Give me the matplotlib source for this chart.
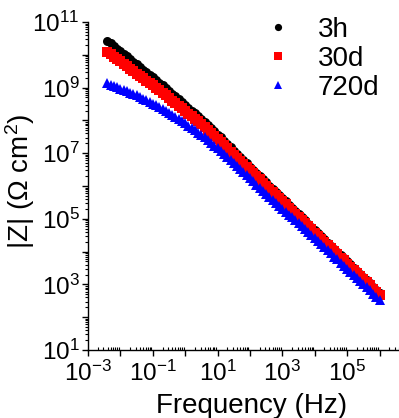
import numpy as np
import matplotlib
matplotlib.use("Agg")
import matplotlib.pyplot as plt
from matplotlib.ticker import LogLocator, FuncFormatter, NullFormatter

plt.rcParams['font.family'] = ['Liberation Sans', 'DejaVu Sans']
plt.rcParams['mathtext.default'] = 'regular'
plt.rcParams['axes.unicode_minus'] = False

# log10 of frequency (Hz)
log_freq = [-2.4, -2.3, -2.2, -2.1, -2.0, -1.9, -1.8, -1.7, -1.6, -1.5,
            -1.4, -1.3, -1.2, -1.1, -1.0, -0.9, -0.8, -0.7, -0.6, -0.5,
            -0.4, -0.3, -0.2, -0.1, 0.0, 0.1, 0.2, 0.3, 0.4, 0.5,
            0.6, 0.7, 0.8, 0.9, 1.0, 1.1, 1.2, 1.3, 1.4, 1.5,
            1.6, 1.7, 1.8, 1.9, 2.0, 2.1, 2.2, 2.3, 2.4, 2.5,
            2.6, 2.7, 2.8, 2.9, 3.0, 3.1, 3.2, 3.3, 3.4, 3.5,
            3.6, 3.7, 3.8, 3.9, 4.0, 4.1, 4.2, 4.3, 4.4, 4.5,
            4.6, 4.7, 4.8, 4.9, 5.0, 5.1, 5.2, 5.3, 5.4, 5.5,
            5.6, 5.7, 5.8, 5.9, 6.0]

# log10 |Z| (Ohm cm2) for each immersion time
logz_3h = [10.43, 10.35, 10.27, 10.19, 10.11, 10.03, 9.95, 9.87, 9.79, 9.71,
           9.63, 9.55, 9.47, 9.39, 9.31, 9.23, 9.15, 9.07, 8.98, 8.89,
           8.81, 8.73, 8.64, 8.56, 8.47, 8.39, 8.30, 8.22, 8.13, 8.05,
           7.96, 7.87, 7.76, 7.67, 7.57, 7.48, 7.37, 7.28, 7.18, 7.08,
           6.98, 6.89, 6.79, 6.69, 6.59, 6.50, 6.39, 6.30, 6.20, 6.11,
           6.01, 5.92, 5.81, 5.72, 5.62, 5.53, 5.43, 5.34, 5.24, 5.14,
           5.04, 4.95, 4.85, 4.76, 4.66, 4.57, 4.47, 4.37, 4.27, 4.18,
           4.08, 3.99, 3.89, 3.80, 3.70, 3.61, 3.50, 3.41, 3.31, 3.22,
           3.12, 3.03, 2.93, 2.84, 2.74]

logz_30d = [10.09, 10.02, 9.94, 9.87, 9.80, 9.72, 9.65, 9.58, 9.50, 9.43,
            9.36, 9.29, 9.21, 9.14, 9.07, 8.99, 8.92, 8.84, 8.76, 8.68,
            8.60, 8.53, 8.45, 8.37, 8.29, 8.21, 8.13, 8.05, 7.97, 7.89,
            7.81, 7.72, 7.62, 7.53, 7.43, 7.34, 7.24, 7.15, 7.05, 6.96,
            6.86, 6.77, 6.67, 6.58, 6.48, 6.39, 6.29, 6.20, 6.10, 6.01,
            5.91, 5.82, 5.72, 5.63, 5.53, 5.44, 5.34, 5.25, 5.15, 5.06,
            4.96, 4.87, 4.77, 4.68, 4.58, 4.49, 4.39, 4.30, 4.20, 4.11,
            4.01, 3.92, 3.82, 3.73, 3.63, 3.54, 3.44, 3.35, 3.25, 3.16,
            3.06, 2.97, 2.87, 2.78, 2.68]

logz_720d = [9.13, 9.09, 9.05, 9.01, 8.97, 8.93, 8.89, 8.85, 8.80, 8.76,
             8.71, 8.66, 8.61, 8.56, 8.51, 8.46, 8.40, 8.34, 8.29, 8.23,
             8.17, 8.11, 8.04, 7.98, 7.91, 7.84, 7.77, 7.70, 7.63, 7.55,
             7.48, 7.40, 7.32, 7.23, 7.15, 7.06, 6.97, 6.88, 6.79, 6.70,
             6.61, 6.52, 6.42, 6.33, 6.23, 6.14, 6.04, 5.95, 5.85, 5.76,
             5.67, 5.58, 5.49, 5.40, 5.31, 5.22, 5.13, 5.04, 4.95, 4.86,
             4.77, 4.68, 4.59, 4.50, 4.40, 4.32, 4.22, 4.14, 4.04, 3.95,
             3.85, 3.76, 3.66, 3.57, 3.47, 3.38, 3.29, 3.20, 3.10, 3.01,
             2.91, 2.82, 2.72, 2.63, 2.53]

series = [
    ('3h', logz_3h, 'o', 'black'),
    ('30d', logz_30d, 's', 'red'),
    ('720d', logz_720d, '^', 'blue'),
]

fig = plt.figure(figsize=(3.99, 4.18), dpi=100)
ax = fig.add_axes([0.2206, 0.1627, 0.7794, 0.7846])

freq = 10.0 ** np.array(log_freq)
for label, logz, marker, color in series:
    ax.plot(freq, 10.0 ** np.array(logz), linestyle='none', marker=marker,
            color=color, markersize=6.5, markeredgewidth=0, label=label)

ax.set_xscale('log')
ax.set_yscale('log')
ax.set_xlim(1e-3, 4e6)
ax.set_ylim(1e1, 1e11)

def odd_decades(v, pos):
    e = int(round(np.log10(v)))
    if e % 2 != 0:
        return r'$10^{%d}$' % e
    return ''

for axis in (ax.xaxis, ax.yaxis):
    axis.set_major_locator(LogLocator(base=10, numticks=20))
    axis.set_minor_locator(LogLocator(base=10, subs=np.arange(2, 10), numticks=20))
    axis.set_major_formatter(FuncFormatter(odd_decades))
    axis.set_minor_formatter(NullFormatter())

ax.tick_params(axis='both', which='major', labelsize=17.5, length=4, width=1, direction='out')
ax.tick_params(axis='y', which='major', pad=2)
ax.tick_params(axis='x', which='major', pad=4)
ax.tick_params(axis='y', which='minor', length=2, width=0.8, direction='out')
ax.tick_params(axis='x', which='minor', length=2, width=0.8, direction='in')

for side in ('top', 'right'):
    ax.spines[side].set_visible(False)
for side in ('left', 'bottom'):
    ax.spines[side].set_linewidth(1.0)

ax.set_xlabel('Frequency (Hz)', fontsize=20)
ax.xaxis.set_label_coords(0.527, -0.13)
ax.set_ylabel('|Z| ($\\Omega$ cm$^2$)', fontsize=20)
ax.yaxis.set_label_coords(-0.165, 0.515)

ax.legend(loc='upper left', bbox_to_anchor=(0.566, 1.015), frameon=False,
          fontsize=20, handlelength=1.0, handletextpad=0.94,
          labelspacing=0.1, borderpad=0, borderaxespad=0, markerscale=0.8)

fig.savefig('out.png', dpi=100)
